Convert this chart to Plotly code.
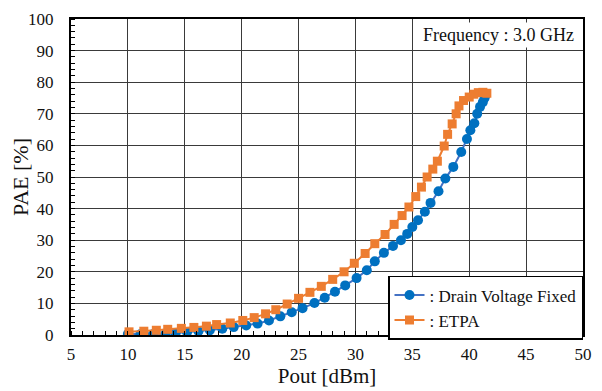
import plotly.graph_objects as go

# Drain Voltage Fixed
dv_pout = [10.0, 11.1, 12.2, 13.3, 14.2, 15.2, 16.2, 17.2, 18.3, 19.3, 20.4, 21.4, 22.4, 23.4,
           24.4, 25.35, 26.4, 27.3, 28.2, 29.1, 30.1, 31.0, 31.7, 32.5, 33.3, 34.0, 34.55, 35.0,
           35.5, 36.1, 36.6, 37.3, 37.9, 38.6, 39.3, 39.8, 40.1, 40.45, 40.7, 40.95, 41.2, 41.35, 41.45]
dv_pae = [0.3, 0.2, 0.2, 0.3, 0.6, 0.9, 1.2, 1.5, 2.0, 2.5, 3.0, 3.6, 4.6, 5.9,
          7.2, 8.5, 10.1, 11.8, 13.7, 15.7, 18.0, 20.5, 23.3, 26.0, 28.2, 30.0, 32.0, 34.2,
          36.3, 39.0, 41.8, 45.5, 49.5, 53.2, 57.9, 62.0, 64.8, 67.0, 70.0, 72.2, 73.7, 75.0, 76.0]

# ETPA
et_pout = [10.1, 11.4, 12.5, 13.5, 14.7, 15.8, 16.9, 17.8, 19.0, 20.1, 21.1, 22.1, 23.0, 24.0,
           25.0, 26.0, 27.0, 28.0, 29.0, 29.9, 30.85, 31.7, 32.6, 33.4, 34.1, 34.7, 35.3, 35.8,
           36.3, 36.8, 37.2, 37.8, 38.1, 38.5, 38.85, 39.1, 39.5, 40.0, 40.4, 40.8, 41.2, 41.55]
et_pae = [1.0, 1.2, 1.5, 1.8, 2.1, 2.4, 2.8, 3.3, 3.8, 4.6, 5.5, 6.7, 8.0, 9.8,
          11.6, 13.5, 15.4, 17.6, 20.0, 22.7, 25.8, 28.9, 31.8, 35.0, 37.8, 40.5, 43.8, 46.8,
          50.0, 52.5, 55.0, 59.8, 63.5, 66.8, 70.0, 72.5, 74.2, 75.3, 76.2, 76.7, 76.8, 76.5]

x_ticks = [5, 10, 15, 20, 25, 30, 35, 40, 45, 50]
y_ticks = [0, 10, 20, 30, 40, 50, 60, 70, 80, 90, 100]

FONT = "Liberation Serif, Times New Roman, serif"

fig = go.Figure()
fig.add_trace(go.Scatter(
    x=dv_pout, y=dv_pae, mode="lines+markers", name=": Drain Voltage Fixed",
    line=dict(color="#4472C4", width=2),
    marker=dict(symbol="circle", size=10, color="#0070C0"),
))
fig.add_trace(go.Scatter(
    x=et_pout, y=et_pae, mode="lines+markers", name=": ETPA",
    line=dict(color="#ED7D31", width=2),
    marker=dict(symbol="square", size=9, color="#ED7D31"),
))

axis_common = dict(
    showline=True, linewidth=2, linecolor="black", mirror=True,
    showgrid=True, gridcolor="#3a3a3a", gridwidth=1,
    zeroline=False, automargin=False,
    tickfont=dict(family=FONT, size=17, color="#111"),
    ticks="outside", tickcolor="rgba(0,0,0,0)",
)

fig.update_xaxes(
    range=[5, 50], tickvals=x_ticks, ticktext=[str(v) for v in x_ticks],
    ticklen=3,
    minor=dict(dtick=1, ticks="inside", ticklen=4, tickcolor="black", tickwidth=1, showgrid=False),
    title=dict(text="Pout [dBm]", font=dict(family=FONT, size=21, color="#111"), standoff=4),
    **axis_common,
)
fig.update_yaxes(
    range=[0, 100], tickvals=y_ticks, ticktext=[str(v) for v in y_ticks],
    ticklen=12,
    minor=dict(dtick=2, ticks="inside", ticklen=4, tickcolor="black", tickwidth=1, showgrid=False),
    title=dict(text="PAE [%]", font=dict(family=FONT, size=22, color="#111"), standoff=3),
    **axis_common,
)

fig.add_annotation(
    text="Frequency : 3.0 GHz", xref="paper", yref="paper", x=1, y=1,
    xanchor="right", yanchor="top", xshift=-6, yshift=-3,
    showarrow=False, bgcolor="white", borderpad=2,
    font=dict(family=FONT, size=18, color="#111"),
)

# page body adds an 8px offset, so the figure is sized to the remaining view
fig.update_layout(
    width=594, height=383,
    margin=dict(l=63, r=19, t=11, b=56, autoexpand=False),
    paper_bgcolor="white", plot_bgcolor="white",
    showlegend=True,
    legend=dict(
        x=1, y=0.187, xanchor="right", yanchor="top",
        bgcolor="white", bordercolor="black", borderwidth=1.5,
        font=dict(family=FONT, size=17, color="#111"),
        itemwidth=30, tracegroupgap=0,
    ),
)

fig.write_html("out.html")
